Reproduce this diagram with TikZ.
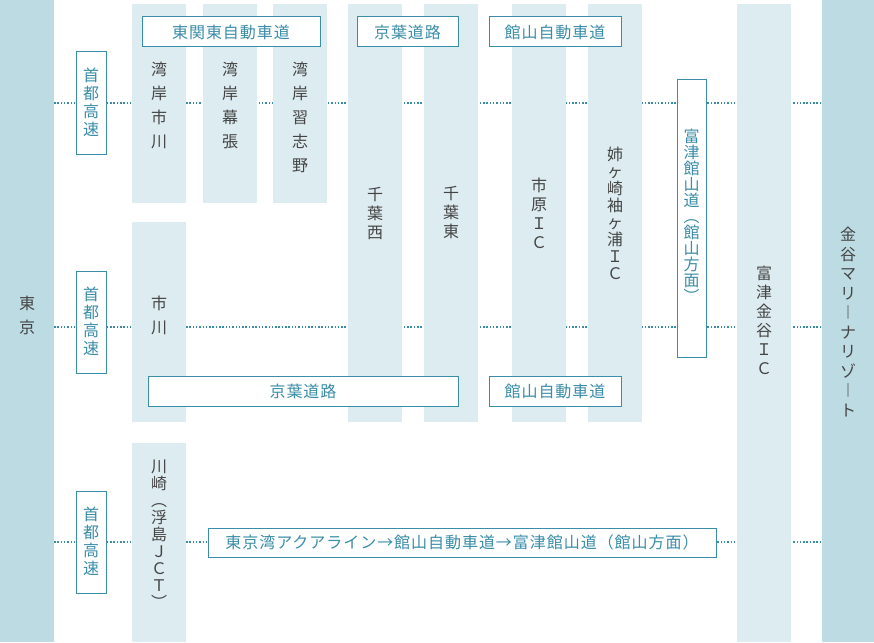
\documentclass[tikz,border=0pt]{standalone}
\usepackage{fontspec}
\setmainfont{Noto Sans CJK JP}[LetterSpace=6]
\definecolor{dark}{HTML}{BCDBE3}
\definecolor{light}{HTML}{DDECF1}
\definecolor{teal}{HTML}{3A8DA8}
\definecolor{txt}{HTML}{444444}
\begin{document}
\begin{tikzpicture}[x=1pt,y=-1pt,
  col/.style={fill=light,draw=none},
  bar/.style={fill=dark,draw=none},
  lbl/.style={draw=teal,fill=white,line width=1pt,text=teal,font=\fontsize{16}{20}\selectfont,inner sep=0pt},
  vt/.style={text=txt,font=\fontsize{16}{24}\selectfont,align=center,inner sep=0pt},
  dots/.style={teal,line width=1.5pt,dash pattern=on 1.5pt off 1.8pt}]
\useasboundingbox (0,0) rectangle (874,642);
\coordinate (L1) at (54,103); \coordinate (R1) at (822,103);
\coordinate (L2) at (54,327); \coordinate (R2) at (822,327);
\coordinate (L3) at (54,542); \coordinate (R3) at (822,542);
\draw[dots] (L1)--(R1); \draw[dots] (L2)--(R2); \draw[dots] (L3)--(R3);
\fill[bar] (0,0) rectangle (54,642);
\fill[bar] (822,0) rectangle (874,642);
\foreach \a/\b/\c/\d in {132/4/186/203,203/4/257/203,273/4/327/203,132/222/186/422,348/4/402/422,424/4/478/422,512/4/566/422,588/4/642/422,737/4/791/642,132/443/186/642}
  \fill[col] (\a,\b) rectangle (\c,\d);
\node[vt,font=\fontsize{16}{24}\selectfont] (tokyo) at (27,315) {東\\京};
\node[vt,font=\fontsize{16}{19.5}\selectfont] (kanaya) at (848,322) {金\\谷\\マ\\リ\\︱\\ナ\\リ\\ゾ\\︱\\ト};
\node[vt,anchor=north] (w1) at (159,62) {湾\\岸\\市\\川};
\node[vt,anchor=north] (w2) at (230,62) {湾\\岸\\幕\\張};
\node[vt,anchor=north] (w3) at (300,62) {湾\\岸\\習\\志\\野};
\node[vt] (ichikawa) at (159,315) {市\\川};
\node[vt,font=\fontsize{16}{19}\selectfont] (cw) at (375,213) {千\\葉\\西};
\node[vt,font=\fontsize{16}{19}\selectfont] (ce) at (451,213) {千\\葉\\東};
\node[vt,font=\fontsize{16}{19}\selectfont] (ichihara) at (539,213) {市\\原\\Ｉ\\Ｃ};
\node[vt,font=\fontsize{16}{17}\selectfont] (anega) at (615,213) {姉\\ヶ\\崎\\袖\\ヶ\\浦\\Ｉ\\Ｃ};
\node[vt,font=\fontsize{16}{19}\selectfont] (futtsu) at (764,320) {富\\津\\金\\谷\\Ｉ\\Ｃ};
\node[vt,font=\fontsize{16}{17}\selectfont] (kawasaki) at (159,534) {川\\崎\\︵\\浮\\島\\Ｊ\\Ｃ\\Ｔ\\︶};
\node[lbl,minimum width=178pt,minimum height=30pt] (tk) at (231,32) {東関東自動車道};
\node[lbl,minimum width=101pt,minimum height=30pt] (ky1) at (407.5,32) {京葉道路};
\node[lbl,minimum width=132pt,minimum height=30pt] (tt1) at (555,32) {館山自動車道};
\node[lbl,minimum width=310pt,minimum height=30pt] (ky2) at (303,391) {京葉道路};
\node[lbl,minimum width=132pt,minimum height=30pt] (tt2) at (555,391) {館山自動車道};
\node[lbl,minimum width=508pt,minimum height=29pt] (aqua) at (462,542.5) {東京湾アクアライン→館山自動車道→富津館山道（館山方面）};
\foreach \n/\y in {s1/103,s2/322,s3/542.5}
  \node[lbl,minimum width=30pt,minimum height=102pt] (\n) at (91,\y) {\begin{tabular}{@{}c@{}}\\[-18pt]首\\[-2pt]都\\[-2pt]高\\[-2pt]速\end{tabular}};
\node[lbl,minimum width=29pt,minimum height=278pt] (ft) at (691.5,218) {\begin{tabular}{@{}c@{}}富\\[-4pt]津\\[-4pt]館\\[-4pt]山\\[-4pt]道\\[-4pt]︵\\[-4pt]館\\[-4pt]山\\[-4pt]方\\[-4pt]面\\[-4pt]︶\end{tabular}};
\end{tikzpicture}
\end{document}
